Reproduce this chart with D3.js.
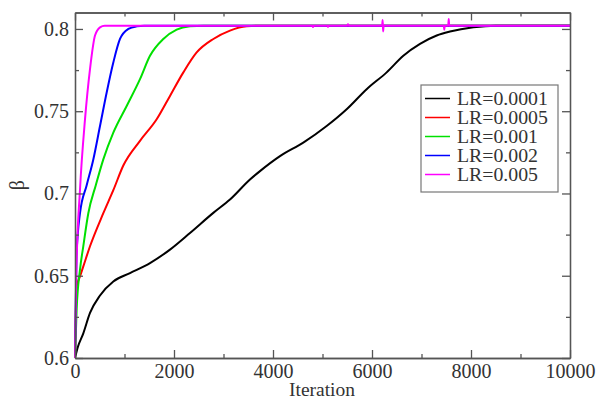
<!DOCTYPE html>
<html>
<head>
<meta charset="utf-8">
<script src="https://cdn.jsdelivr.net/npm/d3@7"></script>
<style>
  html, body { margin: 0; padding: 0; background: #fff; }
  svg text { font-family: "Liberation Serif", "Times New Roman", serif; fill: #333; }
</style>
</head>
<body>
<svg id="chart" width="597" height="401"></svg>
<script>
// ---- data ----
const seriesLabels = ["LR=0.0001", "LR=0.0005", "LR=0.001", "LR=0.002", "LR=0.005"];
const seriesColors = ["#000000", "#ff0000", "#00e000", "#0000ff", "#ff00ff"];

const lr0001Iter = [0, 50, 168, 303, 505, 774, 1111, 1515, 1919, 2323, 2794, 3131, 3535, 3737, 4141, 4612, 5084, 5488, 5892, 6296, 6633, 6970, 7307, 7576, 8047, 8500, 9000, 9500, 10000];
const lr0001Beta = [0.600, 0.606, 0.615, 0.6274, 0.638, 0.6465, 0.6516, 0.6577, 0.6659, 0.676, 0.6882, 0.6963, 0.7085, 0.7136, 0.7227, 0.7309, 0.741, 0.7512, 0.7634, 0.7736, 0.7837, 0.7909, 0.796, 0.7984, 0.801, 0.802, 0.802, 0.802, 0.802];

const lr0005Iter = [0, 34, 101, 168, 303, 572, 774, 976, 1313, 1650, 1919, 2189, 2458, 2795, 3131, 3468, 3800, 5000, 10000];
const lr0005Beta = [0.600, 0.6435, 0.6496, 0.6557, 0.6679, 0.688, 0.7020, 0.7170, 0.7320, 0.7451, 0.7593, 0.7736, 0.7857, 0.7939, 0.799, 0.8016, 0.802, 0.802, 0.802];

const lr001Iter = [0, 34, 101, 168, 269, 420, 572, 774, 1044, 1313, 1515, 1784, 2054, 2323, 2600, 5000, 10000];
const lr001Beta = [0.600, 0.630, 0.6537, 0.668, 0.688, 0.705, 0.7207, 0.737, 0.7532, 0.7695, 0.7837, 0.7939, 0.7996, 0.8016, 0.802, 0.802, 0.802];

const lr002Iter = [0, 30, 101, 236, 370, 505, 640, 774, 909, 1077, 1246, 1400, 5000, 10000];
const lr002Beta = [0.600, 0.662, 0.688, 0.705, 0.7207, 0.741, 0.7614, 0.7796, 0.7939, 0.800, 0.8016, 0.802, 0.802, 0.802];

const lr005Iter = [0, 25, 101, 202, 303, 404, 505, 600, 4790, 4808, 4826, 5100, 5111, 5122, 5505, 5515, 5525, 6205, 6215, 6225, 6235, 7450, 7460, 7470, 7540, 7550, 7560, 10000];
const lr005Beta = [0.600, 0.650, 0.7024, 0.745, 0.7756, 0.796, 0.801, 0.802, 0.802, 0.8012, 0.802, 0.802, 0.8012, 0.802, 0.802, 0.8028, 0.802, 0.802, 0.8055, 0.7985, 0.802, 0.802, 0.7995, 0.802, 0.802, 0.806, 0.802, 0.802];

const xTickValues = [0, 2000, 4000, 6000, 8000, 10000];
const xMinorTicks = [1000, 3000, 5000, 7000, 9000];
const yTickValues = [0.6, 0.65, 0.7, 0.75, 0.8];
const yTickLabels = ["0.6", "0.65", "0.7", "0.75", "0.8"];
const yMinorTicks = [0.625, 0.675, 0.725, 0.775];

// ---- build ----
const svg = d3.select("#chart");
const x = d3.scaleLinear().domain([0, 10000]).range([75, 570]);
const y = d3.scaleLinear().domain([0.6, 0.81]).range([358, 12.5]);
const axisColor = "#555";
const fontSize = 20;

const iters = [lr0001Iter, lr0005Iter, lr001Iter, lr002Iter, lr005Iter];
const betas = [lr0001Beta, lr0005Beta, lr001Beta, lr002Beta, lr005Beta];
const series = seriesLabels.map((lab, i) => ({
  label: lab, color: seriesColors[i],
  pts: iters[i].map((it, j) => [it, betas[i][j]])
}));

const line = d3.line().x(d => x(d[0])).y(d => y(d[1])).curve(d3.curveMonotoneX);

const gLines = svg.append("g");
series.forEach(s => {
  gLines.append("path").datum(s.pts)
    .attr("d", line).attr("fill", "none")
    .attr("stroke", s.color).attr("stroke-width", 2)
    .attr("stroke-linejoin", "round");
});

function styleAxis(g) {
  g.selectAll("path, line").attr("stroke", axisColor).attr("stroke-width", 1.3);
  g.selectAll("text").attr("font-family", "Liberation Serif, serif").attr("font-size", fontSize).attr("fill", "#333");
}

// bottom
svg.append("g").attr("transform", `translate(0,${y(0.6)})`)
  .call(d3.axisBottom(x).tickValues(xTickValues).tickFormat(d3.format("d")).tickSizeInner(-8).tickSizeOuter(0).tickPadding(6))
  .call(styleAxis);
svg.append("g").attr("transform", `translate(0,${y(0.6)})`)
  .call(d3.axisBottom(x).tickValues(xMinorTicks).tickFormat("").tickSizeInner(-4).tickSizeOuter(0))
  .call(styleAxis);
// top
svg.append("g").attr("transform", `translate(0,${y(0.81)})`)
  .call(d3.axisTop(x).tickValues(xTickValues).tickFormat("").tickSizeInner(-8).tickSizeOuter(0))
  .call(styleAxis);
svg.append("g").attr("transform", `translate(0,${y(0.81)})`)
  .call(d3.axisTop(x).tickValues(xMinorTicks).tickFormat("").tickSizeInner(-4).tickSizeOuter(0))
  .call(styleAxis);
// left
svg.append("g").attr("transform", `translate(${x(0)},0)`)
  .call(d3.axisLeft(y).tickValues(yTickValues).tickFormat((d, i) => yTickLabels[i]).tickSizeInner(-8).tickSizeOuter(0).tickPadding(6))
  .call(styleAxis);
svg.append("g").attr("transform", `translate(${x(0)},0)`)
  .call(d3.axisLeft(y).tickValues(yMinorTicks).tickFormat("").tickSizeInner(-4).tickSizeOuter(0))
  .call(styleAxis);
// right
svg.append("g").attr("transform", `translate(${x(10000)},0)`)
  .call(d3.axisRight(y).tickValues(yTickValues).tickFormat("").tickSizeInner(-8).tickSizeOuter(0))
  .call(styleAxis);
svg.append("g").attr("transform", `translate(${x(10000)},0)`)
  .call(d3.axisRight(y).tickValues(yMinorTicks).tickFormat("").tickSizeInner(-4).tickSizeOuter(0))
  .call(styleAxis);

// axis titles
svg.append("text").attr("x", 322).attr("y", 396)
  .attr("text-anchor", "middle").attr("font-size", 19.5).text("Iteration");
svg.append("text").attr("transform", `translate(24,${(y(0.6) + y(0.81)) / 2}) rotate(-90)`)
  .attr("text-anchor", "middle").attr("font-size", 20).text("β");

// legend
const lg = svg.append("g");
lg.append("rect").attr("x", 421).attr("y", 85).attr("width", 137).attr("height", 107)
  .attr("fill", "#fff").attr("stroke", "#777").attr("stroke-width", 1.2);
series.forEach((s, i) => {
  const cy = 98.5 + i * 19;
  lg.append("line").attr("x1", 425).attr("x2", 450).attr("y1", cy).attr("y2", cy)
    .attr("stroke", s.color).attr("stroke-width", 1.5);
  const t = lg.append("text").attr("x", 457).attr("y", cy).attr("dy", "0.35em")
    .attr("font-size", 18.5).text(s.label);
  const w = t.node().getComputedTextLength();
  t.attr("textLength", w * 1.07).attr("lengthAdjust", "spacingAndGlyphs");
});
</script>
</body>
</html>
